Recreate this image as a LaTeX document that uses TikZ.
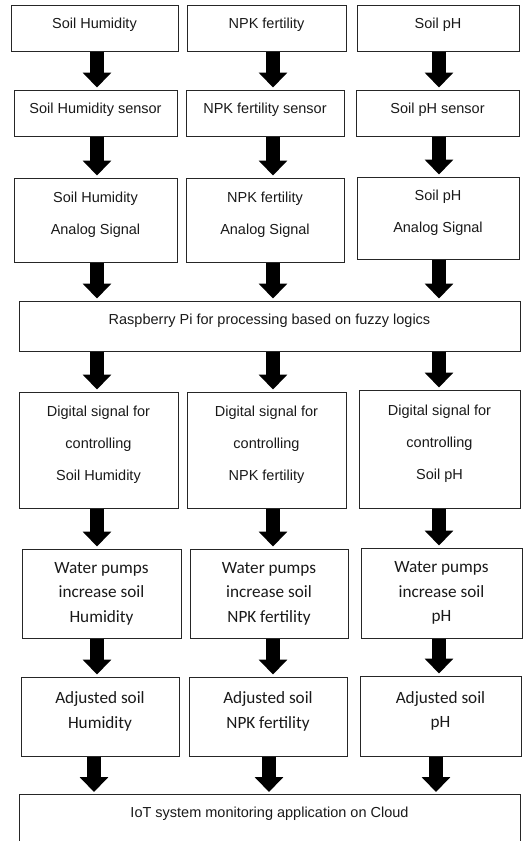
\documentclass[tikz,border=0pt]{standalone}
\usepackage{fontspec}
\setmainfont{Liberation Sans}
\newfontfamily\calibri{Carlito}
\usetikzlibrary{arrows.meta, positioning}
\tikzset{
  block/.style={draw=black!85, line width=1pt, align=center, inner sep=0pt,
    text=black!90, font=\fontsize{14.5}{32}\selectfont, text depth=10pt},
  pumpbox/.style={block, font=\calibri\fontsize{17.2}{24.5}\selectfont, text depth=3pt},
  boxsize/.style 2 args={minimum width=#1, minimum height=#2},
  bigarrow/.style={line width=13.5pt, -{Triangle[width=28pt, length=15pt]}, shorten >=2pt},
}

\begin{document}
\begin{tikzpicture}[x=1pt, y=-1pt]
		\useasboundingbox (0,0) rectangle (523,841);

		% arrow columns
		\coordinate (colA) at (97,0);
		\coordinate (colB) at (273,0);
		\coordinate (colC) at (439,0);
		\coordinate (endA) at (94,0);
		\coordinate (endB) at (269,0);
		\coordinate (endC) at (436,0);

		% sources
		\node[block, boxsize={167}{46}] (hum) at (94.5,28) {Soil Humidity};
		\node[block, boxsize={159}{46}] (npk) at (266.5,28) {NPK fertility};
		\node[block, boxsize={162}{46}] (ph) at (438,28) {Soil pH};

		% sensors
		\node[block, boxsize={163}{46}] (humsen) at (95.5,113) {Soil Humidity sensor};
		\node[block, boxsize={158}{46}] (npksen) at (265,113) {NPK fertility sensor};
		\node[block, boxsize={163}{46}] (phsen) at (437.5,113) {Soil pH sensor};

		% analog signals
		\node[block, boxsize={163}{84}, text depth=14pt] (humsig) at (95.5,220) {Soil Humidity\\Analog Signal};
		\node[block, boxsize={158}{84}, text depth=14pt] (npksig) at (265,220) {NPK fertility\\Analog Signal};
		\node[block, boxsize={162}{82}, text depth=14pt] (phsig) at (438,218) {Soil pH\\Analog Signal};

		% processing
		\node[block, boxsize={501}{50}, text depth=13pt] (rasp) at (269.5,326) {Raspberry Pi for processing based on fuzzy logics};

		% digital signals
		\node[block, boxsize={159}{116}, text depth=13pt] (humdig) at (98.5,450) {Digital signal for\\controlling\\Soil Humidity};
		\node[block, boxsize={159}{116}, text depth=13pt] (npkdig) at (266.5,450) {Digital signal for\\controlling\\NPK fertility};
		\node[block, boxsize={161}{118}, text depth=13pt] (phdig) at (439.5,449) {Digital signal for\\controlling\\Soil pH};

		% pumps
		\node[pumpbox, boxsize={159}{89}] (humpump) at (101.5,593.5) {Water pumps\\increase soil\\Humidity};
		\node[pumpbox, boxsize={158}{89}] (npkpump) at (269,593.5) {Water pumps\\increase soil\\NPK fertility};
		\node[pumpbox, boxsize={161}{90}] (phpump) at (441.5,593) {Water pumps\\increase soil\\pH};

		% adjusted
		\node[pumpbox, boxsize={158}{79}, text depth=13pt] (humadj) at (100,716.5) {Adjusted soil\\Humidity};
		\node[pumpbox, boxsize={158}{79}, text depth=13pt] (npkadj) at (268,716.5) {Adjusted soil\\NPK fertility};
		\node[pumpbox, boxsize={161}{80}, text depth=13pt] (phadj) at (440.5,716) {Adjusted soil\\pH};

		% cloud
		\node[block, boxsize={501}{70}, text depth=35pt, anchor=north] (cloud) at (269.5,794) {IoT system monitoring application on Cloud};

		% arrows
		\draw (hum.south -| colA) edge[bigarrow] (humsen.north -| colA)
		(npk.south -| colB) edge[bigarrow] (npksen.north -| colB)
		(ph.south -| colC) edge[bigarrow] (phsen.north -| colC)
		(humsen.south -| colA) edge[bigarrow] (humsig.north -| colA)
		(npksen.south -| colB) edge[bigarrow] (npksig.north -| colB)
		(phsen.south -| colC) edge[bigarrow] (phsig.north -| colC)
		(humsig.south -| colA) edge[bigarrow] (rasp.north -| colA)
		(npksig.south -| colB) edge[bigarrow] (rasp.north -| colB)
		(phsig.south -| colC) edge[bigarrow] (rasp.north -| colC)
		(rasp.south -| colA) edge[bigarrow] (humdig.north -| colA)
		(rasp.south -| colB) edge[bigarrow] (npkdig.north -| colB)
		(rasp.south -| colC) edge[bigarrow] (phdig.north -| colC)
		(humdig.south -| colA) edge[bigarrow] (humpump.north -| colA)
		(npkdig.south -| colB) edge[bigarrow] (npkpump.north -| colB)
		(phdig.south -| colC) edge[bigarrow] (phpump.north -| colC)
		(humpump.south -| colA) edge[bigarrow] (humadj.north -| colA)
		(npkpump.south -| colB) edge[bigarrow] (npkadj.north -| colB)
		(phpump.south -| colC) edge[bigarrow] (phadj.north -| colC)
		(humadj.south -| endA) edge[bigarrow] (cloud.north -| endA)
		(npkadj.south -| endB) edge[bigarrow] (cloud.north -| endB)
		(phadj.south -| endC) edge[bigarrow] (cloud.north -| endC);

	\end{tikzpicture}
\end{document}
